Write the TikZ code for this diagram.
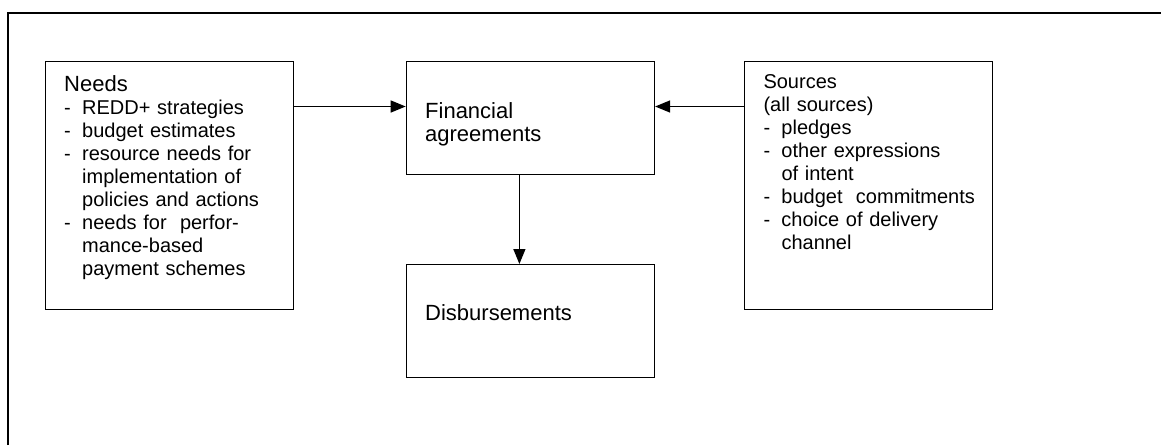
\documentclass[tikz,border=0pt]{standalone}
\usepackage{fontspec}
\setmainfont{Liberation Sans}
\usetikzlibrary{arrows.meta}
\newcommand{\hd}{\fontsize{22}{23}\selectfont}
\newcommand{\bd}{\fontsize{20}{23}\selectfont}
\newcommand{\li}[1]{\makebox[18pt][l]{-}#1}
\newcommand{\lc}[1]{\hspace*{18pt}#1}

\begin{document}
\begin{tikzpicture}[x=1pt, y=-1pt,
        box/.style={draw, rectangle, line width=1.4pt, inner sep=0pt, anchor=north west},
        txt/.style={anchor=base west, inner sep=0pt, text width=225pt, align=left, font=\bd},
        flow/.style={line width=1.3pt, -{Triangle[length=15pt,width=12pt]}}]
        \useasboundingbox (0,0) rectangle (1161,445);
        \draw[line width=2pt] (7.5,445) -- (7.5,13) -- (1161,13);

        \node[box, minimum width=248pt, minimum height=248pt] (needs) at (45,61) {};
        \node[box, minimum width=248pt, minimum height=113pt] (fin) at (405.7,61) {};
        \node[box, minimum width=248pt, minimum height=113pt] (disb) at (405.7,264) {};
        \node[box, minimum width=248pt, minimum height=248pt] (src) at (743.7,61) {};

        \node[txt] (needst) at (64,91.7) {{\hd Needs}\\
            \li{REDD+ strategies}\\
            \li{budget estimates}\\
            \li{resource needs for}\\
            \lc{implementation of}\\
            \lc{policies and actions}\\
            \li{needs for\ \ perfor-}\\
            \lc{mance-based}\\
            \lc{payment schemes}};
        \node[txt, font=\hd] (fint) at (425,118.3) {Financial\\agreements};
        \node[txt, font=\hd] (disbt) at (425,320.7) {Disbursements};
        \node[txt] (srct) at (763.3,88.5) {Sources\\
            (all sources)\\
            \li{pledges}\\
            \li{other expressions}\\
            \lc{of intent}\\
            \li{budget\ \ commitments}\\
            \li{choice of delivery}\\
            \lc{channel}};

        \draw[flow] ([yshift=-45.5pt]needs.north east) -- ([yshift=-45.5pt]fin.north west);
        \draw[flow] ([yshift=-45.5pt]src.north west) -- ([yshift=-45.5pt]fin.north east);
        \draw[flow] ([xshift=-11pt]fin.south) -- ([xshift=-11pt]disb.north);
    \end{tikzpicture}
\end{document}
